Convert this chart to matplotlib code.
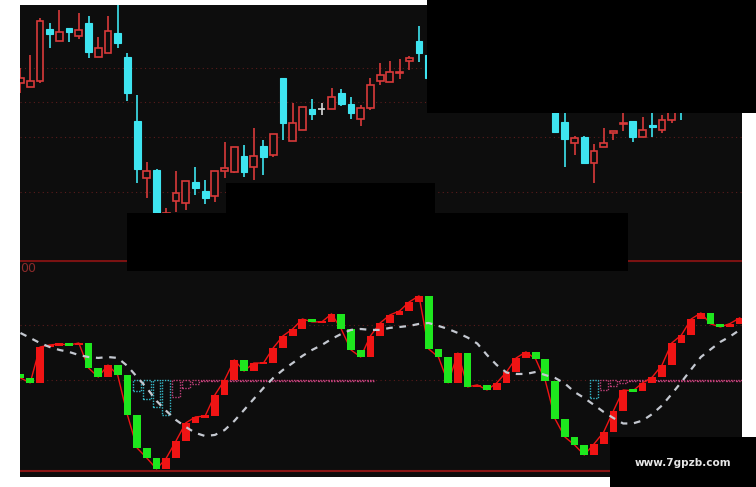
import matplotlib
matplotlib.use("Agg")
import matplotlib.pyplot as plt
from matplotlib.patches import Rectangle
import numpy as np

# ---- price bars (open / high / low / close) ----
k_open = [21.7, 21.3, 21.9, 27.1, 25.9, 27.2, 26.4, 27.7, 24.3, 24.7,
          26.7, 24.3, 17.9, 12.2, 13.0, 7.5, 9.9, 9.7, 11.8, 10.9,
          10.4, 12.9, 12.8, 14.4, 13.3, 15.4, 14.5, 22.2, 15.9, 17.0,
          19.1, 19.1, 19.1, 20.7, 19.6, 18.1, 19.2, 21.9, 21.8, 22.7,
          23.9, 25.9, 24.5, 22.3, 21.8, 20.6, 21.4, 20.3, 20.5, 20.1,
          20.6, 21.3, 22.0, 22.3, 21.8, 20.0, 17.8, 15.7, 16.3, 13.7,
          15.3, 16.75, 17.6, 17.9, 16.3, 17.55, 17.0, 18.0, 20.2, 19.0,
          19.8, 20.4, 20.0, 20.3, 20.6]
k_high = [23.2, 24.5, 28.2, 27.7, 29.0, 27.2, 28.7, 28.4, 26.3, 28.4,
          29.8, 24.7, 20.5, 13.8, 13.1, 9.2, 12.9, 11.9, 13.3, 12.0,
          12.9, 15.8, 15.3, 15.5, 17.2, 16.0, 16.6, 22.2, 19.7, 19.3,
          20.1, 19.7, 21.2, 21.1, 20.3, 19.5, 22.2, 23.7, 23.9, 24.1,
          24.4, 27.4, 24.7, 22.8, 22.0, 21.7, 21.6, 20.9, 20.8, 21.0,
          21.6, 22.4, 22.9, 22.5, 22.0, 20.5, 19.2, 16.4, 16.4, 15.6,
          17.2, 16.9, 18.9, 17.9, 18.3, 18.9, 18.5, 19.2, 20.6, 20.2,
          20.8, 20.9, 20.6, 21.0, 21.3]
k_low = [20.7, 21.3, 21.7, 25.2, 25.9, 25.8, 26.1, 24.2, 24.3, 24.7,
         25.2, 19.9, 11.7, 10.2, 6.5, 7.0, 8.8, 9.0, 10.5, 9.6,
         9.8, 12.2, 12.7, 12.3, 12.0, 12.5, 14.3, 16.0, 15.9, 17.0,
         18.0, 18.5, 19.1, 19.4, 18.1, 17.4, 19.0, 21.5, 21.8, 22.1,
         23.0, 23.8, 22.1, 21.2, 20.2, 20.3, 20.0, 19.9, 19.7, 19.9,
         20.4, 21.0, 21.7, 21.3, 19.9, 16.8, 13.3, 14.5, 13.6, 11.7,
         15.3, 16.0, 16.9, 15.8, 16.3, 16.3, 16.7, 17.7, 18.0, 18.9,
         19.5, 19.6, 18.7, 19.9, 20.2]
k_close = [22.2, 21.9, 27.9, 26.6, 26.8, 26.8, 27.0, 24.8, 25.2, 26.9,
           25.7, 20.7, 13.1, 12.9, 7.5, 8.75, 10.7, 11.9, 11.2, 10.2,
           12.9, 13.2, 15.3, 12.8, 14.4, 14.3, 16.6, 17.7, 17.7, 19.3,
           18.6, 19.1, 20.3, 19.6, 18.7, 19.2, 21.5, 22.5, 22.8, 22.8,
           24.2, 24.7, 22.2, 21.8, 20.6, 21.4, 20.3, 20.5, 20.1, 20.6,
           21.3, 22.0, 22.3, 21.8, 20.3, 16.8, 16.1, 16.2, 13.7, 14.9,
           15.7, 16.85, 17.7, 16.3, 17.0, 17.35, 18.0, 18.9, 19.0, 19.8,
           20.4, 20.0, 20.3, 20.6, 21.0]
price_grid = [23.2, 19.8, 16.3, 10.8]

# ---- lower indicator ----
ind_start = 53.3
ind_close = [51.1, 48.4, 68.1, 69.2, 69.8, 69.2, 70.3, 56.6, 51.6, 58.2,
             52.7, 30.8, 12.6, 7.1, 1.1, 7.1, 16.5, 26.4, 29.7, 30.2,
             41.8, 50.0, 61.0, 54.9, 59.3, 59.3, 67.6, 74.2, 78.0, 83.5,
             81.9, 81.9, 86.3, 78.0, 66.5, 62.6, 74.2, 81.3, 85.7, 87.9,
             92.9, 96.2, 67.0, 62.6, 48.4, 64.8, 46.2, 47.3, 44.5, 48.4,
             54.4, 62.1, 65.4, 61.5, 49.5, 28.6, 18.7, 14.3, 8.8, 14.8,
             21.4, 33.0, 44.5, 44.0, 48.4, 51.6, 58.2, 70.3, 74.7, 83.5,
             86.8, 80.8, 79.1, 81.0, 84.1]
ind_ma = [75.8, 73.1, 70.3, 68.1, 66.5, 65.4, 63.7, 62.6, 62.1, 62.6,
          62.1, 57.7, 51.6, 45.6, 38.5, 33.0, 28.0, 24.2, 20.9, 19.2,
          19.8, 22.5, 27.5, 33.5, 39.6, 45.6, 51.1, 55.5, 59.3, 63.2,
          66.5, 69.2, 72.5, 75.3, 77.5, 78.0, 77.5, 77.5, 78.6, 79.1,
          79.7, 80.8, 81.3, 79.7, 78.0, 75.8, 73.3, 70.0, 63.7, 58.2,
          54.1, 53.3, 53.3, 54.4, 52.7, 51.1, 48.1, 43.4, 40.1, 36.3,
          32.4, 29.1, 26.1, 26.1, 27.7, 31.3, 36.0, 42.3, 48.9, 55.8,
          62.6, 66.8, 70.9, 73.9, 77.5]
hist = [0, 0, 0, 0, 0, 0, 0, 0, 0, 0,
        0, 0, -6.0, -10.4, -14.8, -19.2, -9.3, -4.4, -2.2, -0.8,
        -0.3, -0.3, -0.3, -0.3, -0.3, -0.3, -0.3, -0.3, -0.3, -0.3,
        -0.3, -0.3, -0.3, -0.3, -0.3, -0.3, -0.3, 0, 0, 0,
        0, 0, 0, 0, 0, 0, 0, 0, 0, 0,
        0, 0, 0, 0, 0, 0, 0, 0, 0, -9.9,
        -5.5, -3.3, -1.6, -0.4, -0.4, -0.4, -0.4, -0.4, -0.4, -0.4,
        -0.4, -0.4, -0.4, -0.4, -0.4]
ind_grid = [80, 50]

BG = '#0d0d0d'
RED_K = '#d83a3a'
CYAN = '#3ee4f0'
RED = '#f01414'
GREEN = '#1ee61e'
GRID = '#5a1c1c'

W, H = 756, 487
fig = plt.figure(figsize=(W / 100, H / 100), dpi=100, facecolor='white')


def frac(x0, y0, x1, y1):
    # pixel box (top-left origin) -> figure fraction rect
    return [x0 / W, 1 - y1 / H, (x1 - x0) / W, (y1 - y0) / H]


ax1 = fig.add_axes(frac(20, 5, 742, 260))
ax2 = fig.add_axes(frac(20, 260, 742, 477))
for ax in (ax1, ax2):
    ax.set_facecolor(BG)
    ax.set_xlim(-0.05, 74.23)
    ax.set_xticks([])
    ax.set_yticks([])
    for s in ax.spines.values():
        s.set_visible(False)

ax1.set_ylim(4.0, 29.5)
ax2.set_ylim(-3.3, 115.9)

# candles
for g in price_grid:
    ax1.axhline(g, color=GRID, lw=0.8, ls=(0, (1, 3)))
bw = 0.7
for i in range(len(k_open)):
    o, h, l, c = k_open[i], k_high[i], k_low[i], k_close[i]
    if c > o:
        col = RED_K
    elif c < o:
        col = CYAN
    else:
        col = '#d8d8d8'
    ax1.vlines(i, l, h, color=col, lw=1.2, zorder=2)
    if c == o:
        ax1.hlines(c, i - bw / 2, i + bw / 2, color=col, lw=1.2, zorder=3)
    elif c > o:
        ax1.add_patch(Rectangle((i - bw / 2, o), bw, c - o, facecolor=BG,
                                edgecolor=col, lw=1.2, zorder=3))
    else:
        ax1.add_patch(Rectangle((i - bw / 2, c), bw, o - c, facecolor=col,
                                edgecolor=col, lw=0.8, zorder=3))

# indicator panel
for g in ind_grid:
    ax2.axhline(g, color=GRID, lw=0.8, ls=(0, (1, 3)))
ax2.axhline(0, color='#8a1616', lw=1.5)
ax2.axhline(115.5, color='#7a1212', lw=1.5)

prev_h = 0
for i, hv in enumerate(hist):
    if hv != 0:
        col = '#36b8c8' if hv < prev_h else '#c0407a'
        ax2.add_patch(Rectangle((i - 0.4, 50 + hv), 0.8, -hv, fill=False,
                                edgecolor=col, lw=1.0, ls=(0, (1, 1)), zorder=2))
    prev_h = hv

xs = np.arange(len(ind_close))
ax2.plot(xs, ind_close, color=RED, lw=1.0, zorder=3)
prev = [ind_start] + ind_close[:-1]
for i in range(len(ind_close)):
    p, c = prev[i], ind_close[i]
    col = RED if c >= p else GREEN
    lo, hi = min(p, c), max(p, c)
    if hi - lo < 1.5:
        mid = (hi + lo) / 2
        lo, hi = mid - 0.75, mid + 0.75
    ax2.add_patch(Rectangle((i - 0.4, lo), 0.8, hi - lo, facecolor=col,
                            edgecolor='none', zorder=4))
ax2.plot(xs, ind_ma, color='#c4c8d0', lw=1.6, ls=(0, (3, 3)), zorder=5)

fig.text(20 / W, 1 - 268 / H, '00', color='#8c2a2a', fontsize=9,
         ha='left', va='center')

# black cover boxes
for x0, y0, x1, y1 in [(427, 0, 756, 113), (127, 213, 628, 271),
                       (226, 183, 435, 213), (610, 437, 756, 487)]:
    fig.add_artist(Rectangle((x0 / W, 1 - y1 / H), (x1 - x0) / W, (y1 - y0) / H,
                             transform=fig.transFigure, facecolor='black',
                             edgecolor='none', zorder=10))

fig.text(683 / W, 1 - 463 / H, 'www.7gpzb.com', color='#e6e6e6', fontsize=7.5,
         fontweight='bold', ha='center', va='center', zorder=11)

fig.savefig('out.png', dpi=100, facecolor='white')
